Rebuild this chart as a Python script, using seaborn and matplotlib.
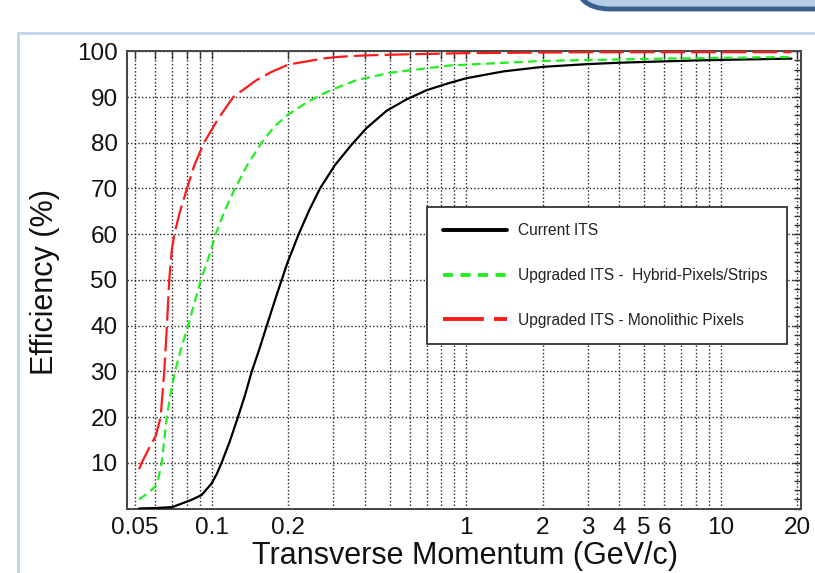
import matplotlib
matplotlib.use("Agg")
import matplotlib.pyplot as plt
import seaborn as sns
import pandas as pd
from matplotlib.ticker import FixedLocator, NullFormatter
from matplotlib.lines import Line2D
from matplotlib.patches import FancyBboxPatch

# ---------------- data ----------------
labels = ["Current ITS",
          "Upgraded ITS -  Hybrid-Pixels/Strips",
          "Upgraded ITS - Monolithic Pixels"]

current_pt = [0.0518, 0.06, 0.07, 0.0834, 0.0913, 0.1, 0.1046, 0.1094, 0.118, 0.1272,
              0.1352, 0.1436, 0.154, 0.1644, 0.1783, 0.198, 0.219, 0.241, 0.2665,
              0.305, 0.355, 0.406, 0.487, 0.584, 0.70, 0.851, 1.0, 1.4, 2.0, 3.0,
              4.0, 6.0, 8.0, 12.0, 19.0]
current_eff = [0.0, 0.1, 0.3, 1.9, 2.95, 5.5, 7.5, 10.0, 14.8, 20.2,
               24.8, 29.9, 34.9, 39.9, 46.0, 53.6, 59.8, 65.1, 70.0,
               75.1, 79.6, 83.2, 87.0, 89.5, 91.5, 93.0, 94.1, 95.6, 96.6, 97.2,
               97.5, 97.8, 98.0, 98.2, 98.4]

hybrid_pt = [0.0518, 0.056, 0.06, 0.0617, 0.0636, 0.065, 0.0666, 0.0688, 0.0718,
             0.0758, 0.0809, 0.0855, 0.0908, 0.097, 0.1037, 0.112, 0.1235, 0.138,
             0.157, 0.176, 0.2, 0.23, 0.2624, 0.2966, 0.371, 0.502, 0.863, 2.0,
             6.0, 19.0]
hybrid_eff = [2.0, 3.3, 4.8, 6.6, 9.9, 14.6, 20.0, 24.8, 30.0,
              35.0, 40.0, 45.0, 50.0, 54.7, 60.0, 64.9, 70.0, 75.1,
              80.0, 83.5, 86.2, 88.4, 90.2, 91.6, 93.7, 95.3, 96.9, 97.9,
              98.4, 98.75]

mono_pt = [0.0518, 0.0531, 0.0565, 0.0603, 0.063, 0.0651, 0.0667, 0.0681, 0.0697,
           0.0713, 0.075, 0.08, 0.0855, 0.0933, 0.1056, 0.1216, 0.15, 0.172, 0.2,
           0.28, 0.319, 0.4, 0.55, 1.0, 3.0, 10.0, 19.0]
mono_eff = [8.6, 10.0, 13.0, 15.9, 20.0, 30.0, 40.0, 50.0, 56.5,
            60.0, 64.9, 70.0, 75.1, 80.0, 85.1, 90.0, 93.7, 95.5, 97.1,
            98.5, 98.8, 99.1, 99.3, 99.6, 99.8, 99.8, 99.8]

x_major = [0.05, 0.1, 0.2, 1, 2, 3, 4, 5, 6, 10, 20]
x_major_labels = ["0.05", "0.1", "0.2", "1", "2", "3", "4", "5", "6", "10", "20"]
x_minor = [0.06, 0.07, 0.08, 0.09, 0.3, 0.4, 0.5, 0.6, 0.7, 0.8, 0.9, 7, 8, 9]
y_major = [10, 20, 30, 40, 50, 60, 70, 80, 90, 100]

df = pd.concat([
    pd.DataFrame({"pt": current_pt, "eff": current_eff, "series": labels[0]}),
    pd.DataFrame({"pt": hybrid_pt, "eff": hybrid_eff, "series": labels[1]}),
    pd.DataFrame({"pt": mono_pt, "eff": mono_eff, "series": labels[2]}),
], ignore_index=True)

# ---------------- style ----------------
sns.set_theme(style="white")
plt.rcParams["font.family"] = ["Liberation Sans", "DejaVu Sans"]

colors = {labels[0]: "#000000", labels[1]: "#22ee22", labels[2]: "#ff1a1a"}
dashes = {labels[0]: "", labels[1]: (4.0, 2.3), labels[2]: (11.0, 2.8)}

fig = plt.figure(figsize=(8.15, 5.73), dpi=100)
fig.patch.set_facecolor("white")
ax = fig.add_axes([127.3 / 815, 1 - 508.5 / 573, (801 - 127.3) / 815, (508.5 - 51.3) / 573])

sns.lineplot(data=df, x="pt", y="eff", hue="series", style="series",
             palette=colors, dashes=dashes, hue_order=labels, style_order=labels,
             estimator=None, sort=False, lw=1.6, legend=False, ax=ax, zorder=3)

ax.set_xscale("log")
ax.set_xlim(0.0466, 20.7)
ax.set_ylim(0, 100)

ax.xaxis.set_major_locator(FixedLocator(x_major))
ax.set_xticklabels(x_major_labels)
ax.xaxis.set_minor_locator(FixedLocator(x_minor))
ax.xaxis.set_minor_formatter(NullFormatter())
ax.yaxis.set_major_locator(FixedLocator(y_major))
ax.yaxis.set_minor_locator(FixedLocator(list(range(0, 101, 2))))

ax.tick_params(axis="both", which="both", direction="in", top=True, right=True,
               color="#333333", width=1.0, length=6)
ax.tick_params(axis="both", which="major", labelsize=17.5, labelcolor="#111111")
ax.tick_params(axis="x", which="major", pad=6)
ax.tick_params(axis="y", which="major", pad=7)
ax.tick_params(axis="y", which="minor", length=5)

grid_kw = dict(color="#222222", linestyle=(0, (1, 1.6)), linewidth=1.0)
ax.grid(True, axis="x", which="both", **grid_kw)
ax.grid(True, axis="y", which="major", **grid_kw)
ax.set_axisbelow(True)

for s in ax.spines.values():
    s.set_color("#444444")
    s.set_linewidth(1.4)

ax.set_xlabel("Transverse Momentum (GeV/c)", fontsize=22, color="#111111")
ax.set_ylabel("Efficiency (%)", fontsize=22, color="#111111")
ax.xaxis.set_label_coords(0.501, -0.070)
ax.yaxis.set_label_coords(-0.100, 0.4965)

# legend
handles = [Line2D([], [], color=colors[l], lw=2.8, linestyle="-") for l in labels]
handles[1].set_dashes((2.6, 1.9))
handles[2].set_dashes((10.5, 2.6))
leg = ax.legend(handles, labels, loc="upper left",
                bbox_to_anchor=(0.4444, 0.36, 0.5344, 0.30), mode="expand",
                fontsize=11.2, frameon=True, fancybox=False, framealpha=1,
                handlelength=4.1, handletextpad=0.7, borderpad=1.05,
                labelspacing=1.92, borderaxespad=0)
leg.get_frame().set_edgecolor("#333333")
leg.get_frame().set_linewidth(1.3)
for t in leg.get_texts():
    t.set_color("#222222")
leg.set_zorder(5)

# decorative frame lines (slide frame)
fx = 18 / 815
fy = 1 - 33 / 573
fig.add_artist(Line2D([fx, 1], [fy, fy], transform=fig.transFigure,
                      color="#c3d5ea", lw=2))
fig.add_artist(Line2D([fx, fx], [0, fy], transform=fig.transFigure,
                      color="#c3d5ea", lw=2))

# top-right rounded shape
box = FancyBboxPatch((5.74, 5.64), 3.0, 0.6,
                     boxstyle="round,pad=0,rounding_size=0.36",
                     transform=fig.dpi_scale_trans, facecolor="#b8cce4",
                     edgecolor="#3a5f8f", lw=3.5, clip_on=False)
fig.add_artist(box)

fig.savefig("out.png", dpi=100)
